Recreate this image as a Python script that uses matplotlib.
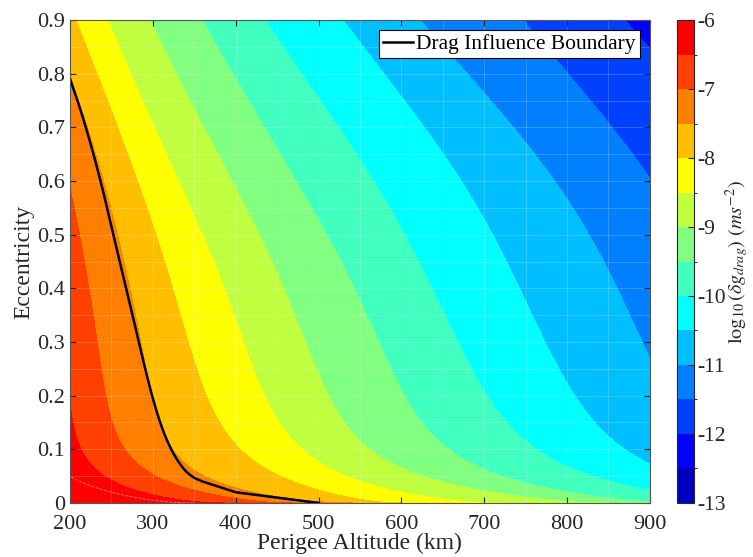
import numpy as np
import matplotlib
matplotlib.use("Agg")
import matplotlib.pyplot as plt
import matplotlib.cm as mcm
from matplotlib.colors import ListedColormap, BoundaryNorm

# ---- data ----
# contour levels whose crossing altitudes (km) were read row by row
crossing_levels = [-6.0, -6.5, -7.0, -7.5, -8.0, -8.5, -9.0, -9.5, -10.0, -10.5, -11.0, -11.5, -12.0]
ecc_rows = [0.0, 0.005, 0.01, 0.02, 0.03, 0.045, 0.06, 0.089, 0.136, 0.183, 0.276, 0.37, 0.46, 0.6, 0.7, 0.8, 0.9]
crossing_alt = [
    [341, 380, 460, 530, 590, 710, 830, 930, 1040, 1150, 1260, 1380, 1500],
    [320, 360, 440, 510, 565, 690, 805, 905, 1010, 1120, 1230, 1350, 1470],
    [300, 330, 410, 480, 550, 650, 790, 870, 990, 1100, 1210, 1330, 1450],
    [255, 280, 360, 409, 530, 600, 720, 800, 915, 1020, 1140, 1260, 1380],
    [215, 248, 320, 385, 485, 560, 660, 770, 865, 975, 1090, 1210, 1330],
    [185, 237, 298, 355, 445, 530, 610, 710, 825, 930, 1045, 1165, 1290],
    [180, 228, 282, 335, 430, 512, 590, 690, 800, 905, 1020, 1140, 1270],
    [172, 217, 269, 330, 407, 484, 566, 661, 770, 876, 990, 1110, 1240],
    [168, 208, 258, 316, 387, 460, 543, 635, 738, 846, 960, 1080, 1210],
    [165, 203, 249, 305, 371, 441, 520, 611, 711, 819, 935, 1060, 1190],
    [160, 195, 238, 292, 348, 416, 493, 584, 679, 783, 896, 1020, 1150],
    [155, 190, 226, 276, 330, 394, 466, 552, 643, 747, 869, 990, 1120],
    [150, 185, 215, 262, 316, 380, 450, 532, 620, 724, 840, 960, 1090],
    [130, 170, 198, 242, 281, 328, 396, 475, 578, 685, 798, 905, 1030],
    [110, 150, 190, 224, 258, 300, 358, 432, 525, 635, 745, 870, 1000],
    [90, 125, 165, 208, 240, 275, 328, 396, 480, 580, 685, 805, 930],
    [70, 100, 135, 165, 198, 242, 294, 356, 426, 515, 602, 728, 850],
]

# drag influence boundary line
boundary_alt = [200, 210, 220, 230, 240, 250, 260, 270, 280, 290, 300, 310, 320, 330, 340, 350, 360, 400, 500]
boundary_ecc = [0.79, 0.745, 0.695, 0.64, 0.58, 0.515, 0.45, 0.385, 0.32, 0.255, 0.195, 0.145,
                0.107, 0.079, 0.059, 0.047, 0.04, 0.02, 0.0]

fill_levels = np.arange(-13.0, -5.99, 0.5)
jet14 = [(0, 0, .75), (0, 0, 1), (0, .25, 1), (0, .5, 1), (0, .75, 1), (0, 1, 1),
         (.25, 1, .75), (.5, 1, .5), (.75, 1, .25), (1, 1, 0), (1, .75, 0),
         (1, .5, 0), (1, .25, 0), (1, 0, 0)]

x_ticks = [200, 300, 400, 500, 600, 700, 800, 900]
y_ticks = [0, 0.1, 0.2, 0.3, 0.4, 0.5, 0.6, 0.7, 0.8, 0.9]
y_ticklabels = ["0", "0.1", "0.2", "0.3", "0.4", "0.5", "0.6", "0.7", "0.8", "0.9"]
cb_ticks = [-13, -12, -11, -10, -9, -8, -7, -6]


def pchip(x, y, xn):
    """Shape-preserving piecewise cubic Hermite interpolation (Fritsch-Carlson)."""
    x = np.asarray(x, float)
    y = np.asarray(y, float)
    h = np.diff(x)
    d = np.diff(y) / h
    m = np.zeros_like(y)
    for k in range(1, len(x) - 1):
        if d[k - 1] * d[k] > 0:
            w1 = 2 * h[k] + h[k - 1]
            w2 = h[k] + 2 * h[k - 1]
            m[k] = (w1 + w2) / (w1 / d[k - 1] + w2 / d[k])
    m[0] = d[0]
    m[-1] = d[-1]
    idx = np.clip(np.searchsorted(x, xn) - 1, 0, len(x) - 2)
    t = (xn - x[idx]) / h[idx]
    h00 = 2 * t**3 - 3 * t**2 + 1
    h10 = t**3 - 2 * t**2 + t
    h01 = -2 * t**3 + 3 * t**2
    h11 = t**3 - t**2
    return h00 * y[idx] + h10 * h[idx] * m[idx] + h01 * y[idx + 1] + h11 * h[idx] * m[idx + 1]


# ---- build a smooth field from the read crossings (Whittaker smoothing in sqrt(e)) ----
CA = np.array(crossing_alt, dtype=float)
s_rows = np.sqrt(np.array(ecc_rows))
N = 420
s_fine = np.linspace(0, s_rows[-1], N)
ecc_fine = s_fine**2
node = np.round(s_rows / s_fine[-1] * (N - 1)).astype(int)
W = np.zeros(N)
W[node] = 1.0
D2 = np.diff(np.eye(N), 2, axis=0)
lam = 6e4
A = np.diag(W) + lam * D2.T @ D2
cross_fine = np.empty((N, CA.shape[1]))
for j in range(CA.shape[1]):
    y = np.zeros(N)
    y[node] = CA[:, j]
    cross_fine[:, j] = np.linalg.solve(A, W * y)

alt_grid = np.linspace(200, 900, 351)
lv = np.array(crossing_levels)
Z = np.empty((N, alt_grid.size))
for i in range(N):
    xp = np.maximum.accumulate(cross_fine[i] + np.arange(lv.size) * 1e-6)
    z = np.interp(alt_grid, xp, lv)
    lm = alt_grid < xp[0]
    z[lm] = lv[0] + (lv[1] - lv[0]) / (xp[1] - xp[0]) * (alt_grid[lm] - xp[0])
    rm = alt_grid > xp[-1]
    z[rm] = lv[-1] + (lv[-1] - lv[-2]) / (xp[-1] - xp[-2]) * (alt_grid[rm] - xp[-1])
    Z[i] = z

# smooth drag boundary through its read points
b_alt = np.linspace(200, 360, 81)
b_ecc = pchip(boundary_alt[:17], boundary_ecc[:17], b_alt)
line_alt = np.concatenate([b_alt, boundary_alt[17:]])
line_ecc = np.concatenate([b_ecc, boundary_ecc[17:]])

plt.rcParams['font.family'] = ['Liberation Serif', 'DejaVu Serif']
plt.rcParams['mathtext.fontset'] = 'stix'
gray = '#262626'

fig = plt.figure(figsize=(7.53, 5.57), dpi=100)
ax = fig.add_axes([0.093, 0.097, 0.77, 0.867])
cax = fig.add_axes([0.899, 0.097, 0.023, 0.867])

cmap = ListedColormap(jet14)
cmap.set_over(jet14[-1])
cmap.set_under(jet14[0])
norm = BoundaryNorm(fill_levels, cmap.N)
cf = ax.contourf(alt_grid, ecc_fine, Z, levels=fill_levels, cmap=cmap, norm=norm, extend='both')
ax.contour(alt_grid, ecc_fine, Z, levels=[-6.0], colors='white', linewidths=0.6, alpha=0.5)

ax.plot(line_alt, line_ecc, color='black', lw=1.8, label='Drag Influence Boundary')

ax.set_xlim(200, 900)
ax.set_ylim(0, 0.9)
ax.set_xticks(x_ticks)
ax.set_yticks(y_ticks)
ax.set_yticklabels(y_ticklabels)
ax.set_xticks(np.arange(250, 900, 100), minor=True)
ax.set_yticks(np.arange(0.05, 0.9, 0.1), minor=True)
ax.grid(True, which='both', color='white', alpha=0.22, lw=0.6)
ax.tick_params(which='both', direction='in', top=True, right=True, colors=gray,
               labelsize=16, length=4)
ax.tick_params(axis='x', pad=9)
ax.tick_params(which='minor', length=0)
for s in ax.spines.values():
    s.set_color('#555555')
    s.set_linewidth(0.8)
ax.set_xlabel('Perigee Altitude (km)', fontsize=17, color=gray, labelpad=-1)
ax.set_ylabel('Eccentricity', fontsize=17, color=gray, labelpad=2)

leg = ax.legend(loc='upper right', fontsize=15.5, frameon=True, fancybox=False,
                edgecolor='black', framealpha=1, handlelength=1.4,
                handletextpad=0.15, borderpad=0.2, borderaxespad=0.45)
leg.get_frame().set_linewidth(0.8)

sm = mcm.ScalarMappable(norm=norm, cmap=ListedColormap(jet14))
cb = fig.colorbar(sm, cax=cax, ticks=cb_ticks)
cb.ax.set_yticklabels([str(t) for t in cb_ticks])
cb.ax.tick_params(direction='in', labelsize=15.5, colors=gray, length=4, pad=2)
cb.outline.set_edgecolor(gray)
cb.outline.set_linewidth(0.8)
cb.set_label(r'$\log_{10}(\delta g_{drag})\ (ms^{-2})$', fontsize=14.5, color=gray, labelpad=-2)
cax.set_ylim(-13, -6)

fig.savefig('out.png', dpi=100)
